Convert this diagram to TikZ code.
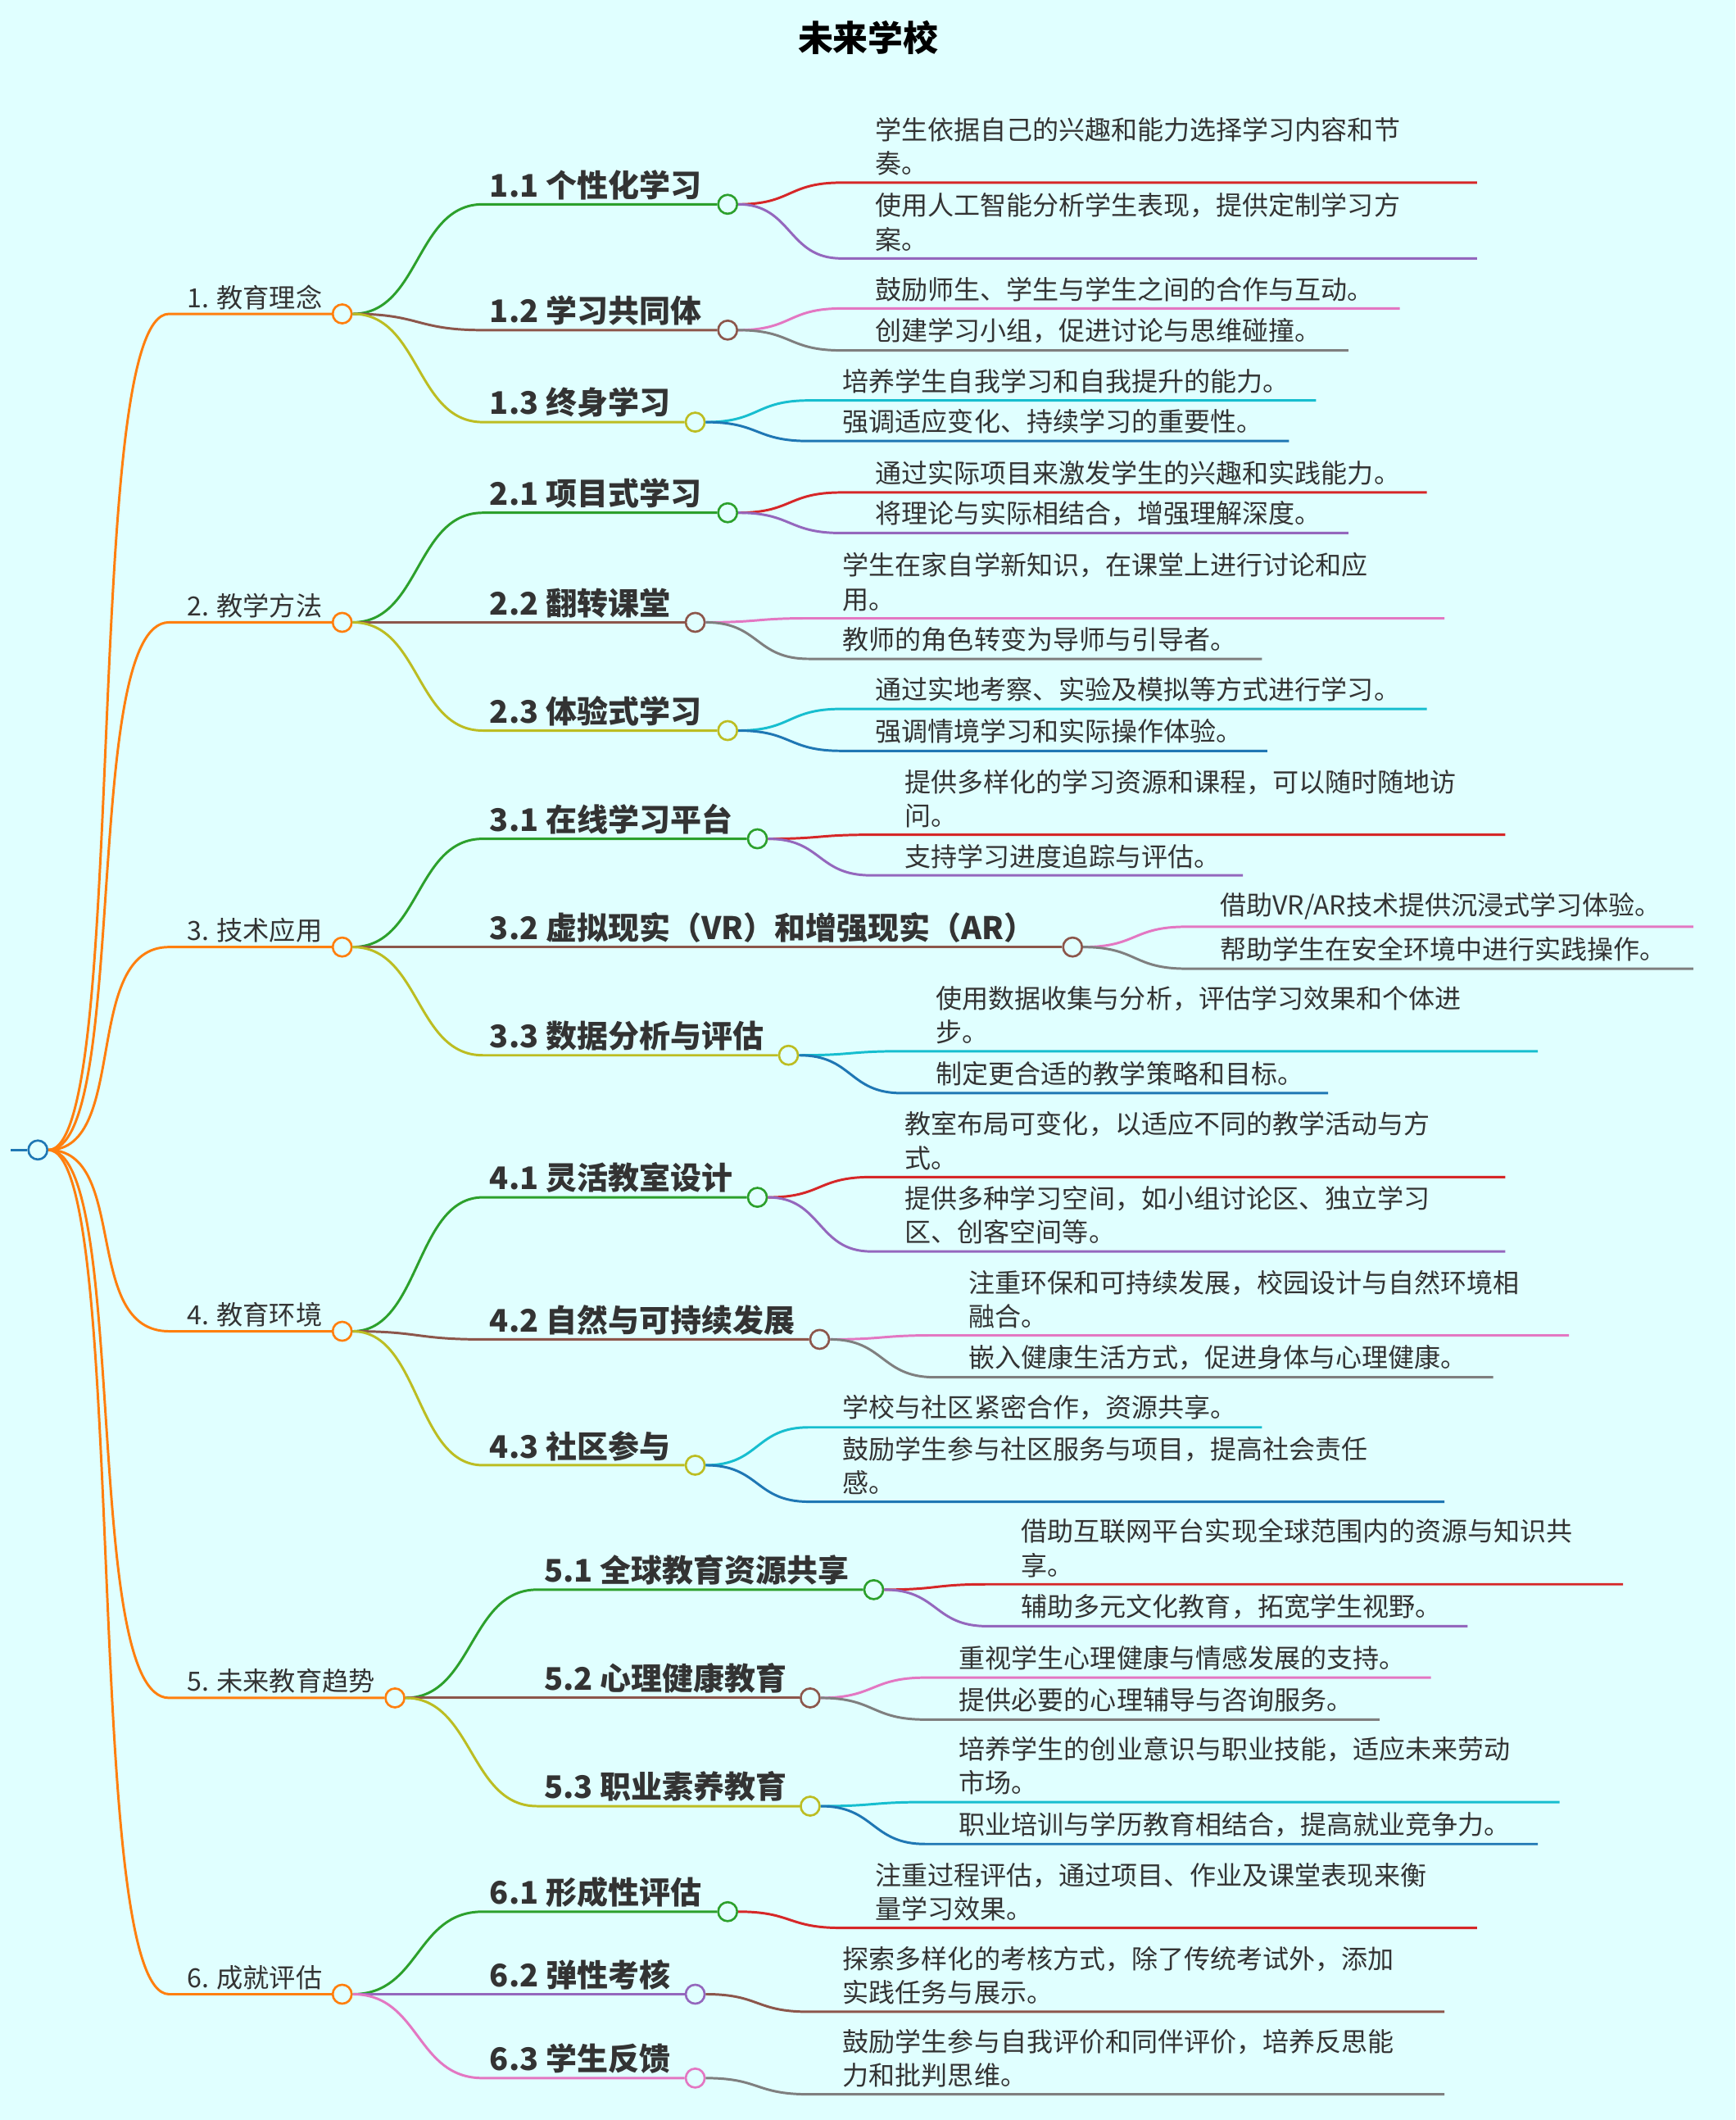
\documentclass[tikz,border=0pt]{standalone}
\usepackage{fontspec}
\setmainfont{Noto Sans CJK SC}
\definecolor{bg}{HTML}{E0FFFF}
\definecolor{cor}{HTML}{FF7F0E}\definecolor{cgr}{HTML}{2CA02C}\definecolor{cbr}{HTML}{8C564B}
\definecolor{col}{HTML}{BCBD22}\definecolor{cre}{HTML}{D62728}\definecolor{cpu}{HTML}{9467BD}
\definecolor{cpi}{HTML}{E377C2}\definecolor{cgy}{HTML}{7F7F7F}\definecolor{ccy}{HTML}{17BECF}
\definecolor{cbl}{HTML}{1F77B4}
\tikzset{
 dot/.style={circle,draw=#1,fill=bg,line width=1.6pt,minimum size=14pt,inner sep=0pt},
 br/.style={draw=#1,line width=1.8pt},
 lv1/.style={font=\fontsize{19.5}{24}\selectfont,inner sep=0pt,anchor=south west,text=black!80},
 lv2/.style={font=\fontsize{23}{28}\selectfont\bfseries,inner sep=0pt,anchor=south west,text=black!80},
 lv3/.style={font=\fontsize{19.4}{25}\selectfont,inner sep=0pt,anchor=south west,align=left,text=black!80},
}
\newcommand\Lone[4]{%
 \node[dot=cor] (#1) at (#3,#2) {};
 \draw[br=cor] (root.east) .. controls +(60,0) and (60,#2) .. (125,#2) -- (#1.west);
 \node[lv1] (#1t) at (138,#2-3) {#4};}
\newcommand\Ltwo[7]{% name parent labelx y cx color label
 \node[dot=#6] (#1) at (#5,#4) {};
 \draw[br=#6] (#2.east) .. controls +(50,0) and (#3-55,#4) .. (#3-5,#4) -- (#1.west);
 \node[lv2] (#1t) at (#3,#4-3) {#7};}
\newcommand\Leaf[7]{% parent name tx y ex color text
 \draw[br=#6] (#1.east) .. controls +(40,0) and (#3-65,#4) .. (#3-25,#4) -- (#5,#4);
 \node[lv3] (#2) at (#3,#4-5) {#7};}
\begin{document}
\begin{tikzpicture}[x=1pt,y=-1pt]
\fill[bg] (0,0) rectangle (1283,1567);
\useasboundingbox (0,0) rectangle (1283,1567);
\node[font=\fontsize{26}{30}\selectfont\bfseries] (title) at (642,28) {未来学校};
\node[dot=cbl] (root) at (28,850) {};
\coordinate (rs) at (8,850);
\draw[br=cbl] (rs) -- (root.west);
\Lone{a}{232}{253}{1. 教育理念}
\Lone{b}{460}{253}{2. 教学方法}
\Lone{c}{700}{253}{3. 技术应用}
\Lone{d}{984}{253}{4. 教育环境}
\Lone{e}{1255}{292}{5. 未来教育趋势}
\Lone{f}{1474}{253}{6. 成就评估}
\Ltwo{a1}{a}{362}{151}{538}{cgr}{1.1 个性化学习}
\Ltwo{a2}{a}{362}{244}{538}{cbr}{1.2 学习共同体}
\Ltwo{a3}{a}{362}{312}{514}{col}{1.3 终身学习}
\Ltwo{b1}{b}{362}{379}{538}{cgr}{2.1 项目式学习}
\Ltwo{b2}{b}{362}{460}{514}{cbr}{2.2 翻转课堂}
\Ltwo{b3}{b}{362}{540}{538}{col}{2.3 体验式学习}
\Ltwo{c1}{c}{362}{620}{560}{cgr}{3.1 在线学习平台}
\Ltwo{c2}{c}{362}{700}{793}{cbr}{3.2 虚拟现实（VR）和增强现实（AR）}
\Ltwo{c3}{c}{362}{780}{583}{col}{3.3 数据分析与评估}
\Ltwo{d1}{d}{362}{885}{560}{cgr}{4.1 灵活教室设计}
\Ltwo{d2}{d}{362}{990}{606}{cbr}{4.2 自然与可持续发展}
\Ltwo{d3}{d}{362}{1083}{514}{col}{4.3 社区参与}
\Ltwo{e1}{e}{402}{1175}{646}{cgr}{5.1 全球教育资源共享}
\Ltwo{e2}{e}{402}{1255}{599}{cbr}{5.2 心理健康教育}
\Ltwo{e3}{e}{402}{1335}{599}{col}{5.3 职业素养教育}
\Ltwo{f1}{f}{362}{1413}{538}{cgr}{6.1 形成性评估}
\Ltwo{f2}{f}{362}{1474}{514}{cpu}{6.2 弹性考核}
\Ltwo{f3}{f}{362}{1536}{514}{cpi}{6.3 学生反馈}
\Leaf{a1}{a1x}{647}{135}{1092}{cre}{学生依据自己的兴趣和能力选择学习内容和节\\奏。}
\Leaf{a1}{a1y}{647}{191}{1092}{cpu}{使用人工智能分析学生表现，提供定制学习方\\案。}
\Leaf{a2}{a2x}{647}{228}{1035}{cpi}{鼓励师生、学生与学生之间的合作与互动。}
\Leaf{a2}{a2y}{647}{259}{997}{cgy}{创建学习小组，促进讨论与思维碰撞。}
\Leaf{a3}{a3x}{623}{296}{973}{ccy}{培养学生自我学习和自我提升的能力。}
\Leaf{a3}{a3y}{623}{326}{953}{cbl}{强调适应变化、持续学习的重要性。}
\Leaf{b1}{b1x}{647}{364}{1055}{cre}{通过实际项目来激发学生的兴趣和实践能力。}
\Leaf{b1}{b1y}{647}{394}{997}{cpu}{将理论与实际相结合，增强理解深度。}
\Leaf{b2}{b2x}{623}{457}{1068}{cpi}{学生在家自学新知识，在课堂上进行讨论和应\\用。}
\Leaf{b2}{b2y}{623}{487}{933}{cgy}{教师的角色转变为导师与引导者。}
\Leaf{b3}{b3x}{647}{524}{1055}{ccy}{通过实地考察、实验及模拟等方式进行学习。}
\Leaf{b3}{b3y}{647}{555}{937}{cbl}{强调情境学习和实际操作体验。}
\Leaf{c1}{c1x}{669}{617}{1113}{cre}{提供多样化的学习资源和课程，可以随时随地访\\问。}
\Leaf{c1}{c1y}{669}{647}{919}{cpu}{支持学习进度追踪与评估。}
\Leaf{c2}{c2x}{902}{685}{1252}{cpi}{借助VR/AR技术提供沉浸式学习体验。}
\Leaf{c2}{c2y}{902}{716}{1252}{cgy}{帮助学生在安全环境中进行实践操作。}
\Leaf{c3}{c3x}{692}{777}{1137}{ccy}{使用数据收集与分析，评估学习效果和个体进\\步。}
\Leaf{c3}{c3y}{692}{808}{982}{cbl}{制定更合适的教学策略和目标。}
\Leaf{d1}{d1x}{669}{870}{1113}{cre}{教室布局可变化，以适应不同的教学活动与方\\式。}
\Leaf{d1}{d1y}{669}{925}{1113}{cpu}{提供多种学习空间，如小组讨论区、独立学习\\区、创客空间等。}
\Leaf{d2}{d2x}{716}{987}{1160}{cpi}{注重环保和可持续发展，校园设计与自然环境相\\融合。}
\Leaf{d2}{d2y}{716}{1018}{1104}{cgy}{嵌入健康生活方式，促进身体与心理健康。}
\Leaf{d3}{d3x}{623}{1055}{933}{ccy}{学校与社区紧密合作，资源共享。}
\Leaf{d3}{d3y}{623}{1110}{1068}{cbl}{鼓励学生参与社区服务与项目，提高社会责任\\感。}
\Leaf{e1}{e1x}{755}{1171}{1200}{cre}{借助互联网平台实现全球范围内的资源与知识共\\享。}
\Leaf{e1}{e1y}{755}{1202}{1085}{cpu}{辅助多元文化教育，拓宽学生视野。}
\Leaf{e2}{e2x}{709}{1240}{1058}{cpi}{重视学生心理健康与情感发展的支持。}
\Leaf{e2}{e2y}{709}{1271}{1020}{cgy}{提供必要的心理辅导与咨询服务。}
\Leaf{e3}{e3x}{709}{1332}{1153}{ccy}{培养学生的创业意识与职业技能，适应未来劳动\\市场。}
\Leaf{e3}{e3y}{709}{1363}{1137}{cbl}{职业培训与学历教育相结合，提高就业竞争力。}
\Leaf{f1}{f1x}{647}{1425}{1092}{cre}{注重过程评估，通过项目、作业及课堂表现来衡\\量学习效果。}
\Leaf{f2}{f2x}{623}{1487}{1068}{cbr}{探索多样化的考核方式，除了传统考试外，添加\\实践任务与展示。}
\Leaf{f3}{f3x}{623}{1548}{1068}{cgy}{鼓励学生参与自我评价和同伴评价，培养反思能\\力和批判思维。}
\end{tikzpicture}
\end{document}
